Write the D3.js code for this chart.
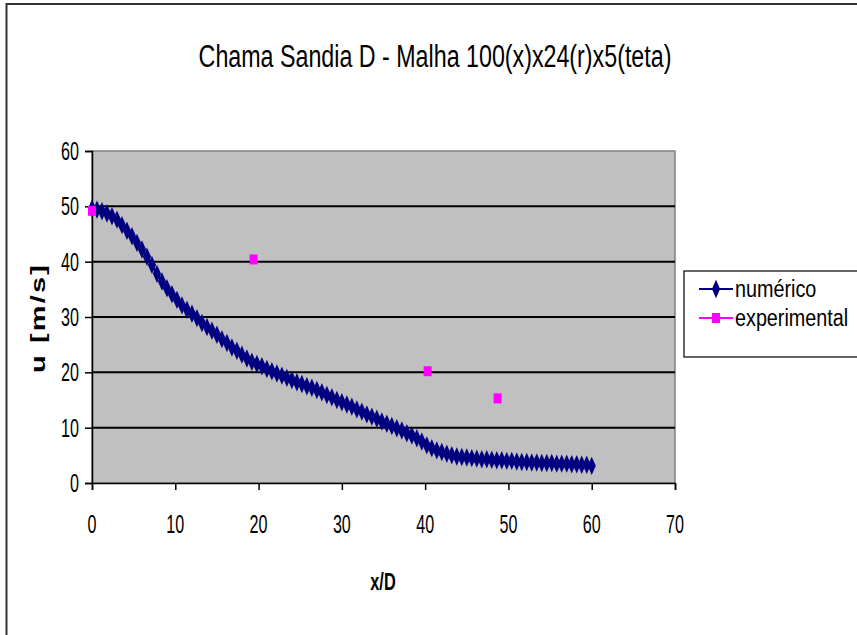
<!DOCTYPE html>
<html>
<head>
<meta charset="utf-8">
<script src="https://cdn.jsdelivr.net/npm/d3@7"></script>
<style>
  html, body { margin: 0; padding: 0; background: #fff; }
  svg { display: block; }
  text { font-family: "Liberation Sans", Arial, sans-serif; fill: #000; }
</style>
</head>
<body>
<svg id="chart" width="857" height="635"></svg>
<script>
// ---- data ----
const title = "Chama Sandia D - Malha 100(x)x24(r)x5(teta)";
const xLabel = "x/D";
const yLabel = "u [m/s]";
const xTicks = [0, 10, 20, 30, 40, 50, 60, 70];
const yTicks = [0, 10, 20, 30, 40, 50, 60];
const seriesNames = ["numérico", "experimental"];

const numX = [0.0,0.6,1.2,1.8,2.4,3.0,3.6,4.2,4.8,5.4,6.0,6.6,7.2,7.8,8.4,9.0,9.6,10.2,10.8,11.4,
  12.0,12.6,13.2,13.8,14.4,15.0,15.6,16.2,16.8,17.4,18.0,18.6,19.2,19.8,20.4,21.0,21.6,22.2,22.8,23.4,
  24.0,24.6,25.2,25.8,26.4,27.0,27.6,28.2,28.8,29.4,30.0,30.6,31.2,31.8,32.4,33.0,33.6,34.2,34.8,35.4,
  36.0,36.6,37.2,37.8,38.4,39.0,39.6,40.2,40.8,41.4,42.0,42.6,43.2,43.8,44.4,45.0,45.6,46.2,46.8,47.4,
  48.0,48.6,49.2,49.8,50.4,51.0,51.6,52.2,52.8,53.4,54.0,54.6,55.2,55.8,56.4,57.0,57.6,58.2,58.8,59.4,60.0];
const numY = [49.6,49.4,49.1,48.7,48.2,47.6,46.6,45.6,44.6,43.4,42.2,40.9,39.4,37.8,36.4,35.2,34.1,33.1,32.1,31.3,
  30.6,29.8,28.9,28.2,27.5,26.8,26.0,25.3,24.5,23.9,23.2,22.5,21.9,21.5,21.1,20.6,20.2,19.8,19.4,19.0,
  18.6,18.2,17.9,17.5,17.2,16.8,16.4,15.9,15.5,15.0,14.6,14.2,13.8,13.3,12.9,12.4,12.0,11.6,11.1,10.7,
  10.3,9.9,9.5,9.0,8.6,8.1,7.5,6.8,6.3,5.9,5.6,5.3,5.0,4.8,4.7,4.6,4.5,4.4,4.3,4.3,
  4.2,4.1,4.1,4.0,4.0,3.9,3.8,3.8,3.7,3.7,3.6,3.6,3.6,3.5,3.5,3.5,3.4,3.4,3.3,3.3,3.1];

const expX = [0, 19.4, 40.3, 48.7];
const expY = [49.2, 40.4, 20.2, 15.3];

// ---- drawing ----
const svg = d3.select("#chart");
const navy = "#000080", magenta = "#FF00FF";

const x = d3.scaleLinear().domain([0, 70]).range([92, 675]);
const y = d3.scaleLinear().domain([0, 60]).range([483, 151]);

function narrowText(parent, str, px, py, size, anchor, weight, sx, rotate, spacing) {
  const g = parent.append("g")
    .attr("transform", `translate(${px},${py})` + (rotate ? ` rotate(${rotate})` : "") + ` scale(${sx},1)`);
  const t = g.append("text")
    .attr("text-anchor", anchor)
    .attr("font-size", size)
    .attr("font-weight", weight || "normal")
    .text(str);
  if (spacing) t.attr("letter-spacing", spacing);
  return t;
}

// outer chart border
svg.append("rect")
  .attr("x", 6.5).attr("y", 4).attr("width", 870).attr("height", 660)
  .attr("fill", "#fff").attr("stroke", "#333").attr("stroke-width", 2);

// plot area
svg.append("rect")
  .attr("x", x(0)).attr("y", y(60))
  .attr("width", x(70) - x(0)).attr("height", y(0) - y(60))
  .attr("fill", "#C0C0C0").attr("stroke", "#808080").attr("stroke-width", 1.5);

// gridlines
svg.append("g").selectAll("line")
  .data(yTicks.filter(d => d > 0 && d < 60))
  .join("line")
  .attr("x1", x(0)).attr("x2", x(70))
  .attr("y1", d => y(d)).attr("y2", d => y(d))
  .attr("stroke", "#000").attr("stroke-width", 2);

// axes
const yAxis = d3.axisLeft(y).tickValues(yTicks).tickSize(7).tickPadding(8).tickFormat(d3.format("d"));
const xAxis = d3.axisBottom(x).tickValues(xTicks).tickSize(7).tickPadding(8).tickFormat(d3.format("d"));

const gy = svg.append("g").attr("transform", `translate(${x(0)},0)`).call(yAxis);
const gx = svg.append("g").attr("transform", `translate(0,${y(0)})`).call(xAxis);
[gy, gx].forEach(g => {
  g.select(".domain").attr("stroke", "#000").attr("stroke-width", 1.5);
  g.selectAll(".tick line").attr("stroke", "#000").attr("stroke-width", 1.5);
  g.selectAll(".tick text").remove();
});
// tick labels (narrow, tall)
yTicks.forEach(t => narrowText(svg, String(t), 79, y(t) + 9, 26, "end", "normal", 0.62));
xTicks.forEach(t => narrowText(svg, String(t), x(t), 533, 26, "middle", "normal", 0.62));

// numeric series
const line = d3.line().x(d => x(d[0])).y(d => y(d[1]));
const numData = numX.map((v, i) => [v, numY[i]]);
svg.append("path").datum(numData)
  .attr("d", line).attr("fill", "none").attr("stroke", navy).attr("stroke-width", 2);
const diamond = d3.symbol().type(d3.symbolDiamond).size(58);
svg.append("g").selectAll("path")
  .data(numData).join("path")
  .attr("transform", d => `translate(${x(d[0])},${y(d[1])}) scale(1,1.3)`)
  .attr("d", diamond).attr("fill", navy);

// experimental series
const expData = expX.map((v, i) => [v, expY[i]]);
svg.append("g").selectAll("rect")
  .data(expData).join("rect")
  .attr("x", d => x(d[0]) - 4).attr("y", d => y(d[1]) - 5)
  .attr("width", 8).attr("height", 10).attr("fill", magenta);

// title & axis titles
narrowText(svg, title, 435, 67, 31, "middle", "normal", 0.75);
narrowText(svg, xLabel, 383, 590, 24, "middle", "bold", 0.68);
narrowText(svg, yLabel, 45, 318, 20, "middle", "bold", 1.45, -90, 1.5);

// legend
const lg = svg.append("g");
lg.append("rect").attr("x", 684).attr("y", 271).attr("width", 200).attr("height", 86)
  .attr("fill", "#fff").attr("stroke", "#000").attr("stroke-width", 1.2);
const rows = [289, 318];
seriesNames.forEach((name, i) => {
  const ry = rows[i];
  const col = i === 0 ? navy : magenta;
  lg.append("line").attr("x1", 699).attr("x2", 733).attr("y1", ry).attr("y2", ry)
    .attr("stroke", col).attr("stroke-width", 2);
  if (i === 0) {
    lg.append("path").attr("transform", `translate(716,${ry}) scale(1,1.3)`).attr("d", diamond).attr("fill", navy);
  } else {
    lg.append("rect").attr("x", 712).attr("y", ry - 5).attr("width", 8).attr("height", 10).attr("fill", magenta);
  }
  narrowText(lg, name, 735, ry + 8, 23, "start", "normal", 0.86);
});
</script>
</body>
</html>
